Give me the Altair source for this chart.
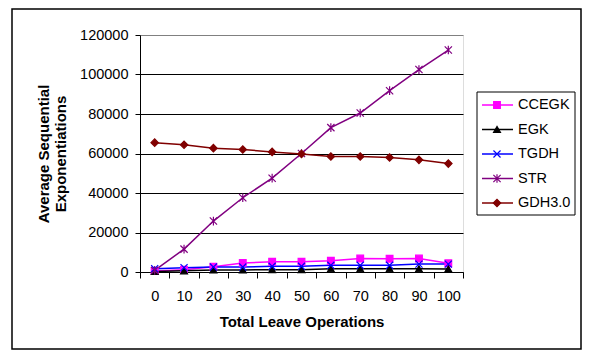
import altair as alt
import pandas as pd

ops = [0, 10, 20, 30, 40, 50, 60, 70, 80, 90, 100]
series_names = ["CCEGK", "EGK", "TGDH", "STR", "GDH3.0"]
ccegk = [500, 1200, 2700, 4600, 5200, 5200, 5700, 6800, 6700, 6800, 4400]
egk = [300, 600, 1000, 1000, 1200, 1200, 1600, 1600, 1600, 1600, 1500]
tgdh = [1700, 2200, 2500, 2500, 2900, 2900, 3400, 3400, 3400, 4000, 4000]
strv = [800, 11600, 25800, 37600, 47500, 60000, 73100, 80500, 91800, 102500, 112400]
gdh3 = [65500, 64400, 62700, 62000, 60800, 59800, 58500, 58500, 58000, 56800, 54900]
y_ticks = [0, 20000, 40000, 60000, 80000, 100000, 120000]

line_colors = ["#FF00FF", "#000000", "#0000FF", "#800080", "#800000"]
fill_colors = ["#FF00FF", "#000000", "transparent", "transparent", "#800000"]
shapes = ["square", "triangle-up", "M-1,-1L1,1M-1,1L1,-1",
          "M-1,-1L1,1M-1,1L1,-1M0,-1.2L0,1.2", "diamond"]
sizes = [45, 55, 36, 40, 60]

rows = []
for name, vals in zip(series_names, [ccegk, egk, tgdh, strv, gdh3]):
    for o, v in zip(ops, vals):
        rows.append({"ops": o, "value": v, "series": name})
df = pd.DataFrame(rows)
leg_df = pd.DataFrame({"series": series_names})
one = pd.DataFrame({"a": [0]})

FONT = "Liberation Sans"

stroke_enc = alt.Stroke("series:N", scale=alt.Scale(domain=series_names, range=line_colors), legend=None)
fill_enc = alt.Fill("series:N", scale=alt.Scale(domain=series_names, range=fill_colors), legend=None)
shape_enc = alt.Shape("series:N", scale=alt.Scale(domain=series_names, range=shapes), legend=None)
size_enc = alt.Size("series:N", scale=alt.Scale(domain=series_names, range=sizes), legend=None)

x_enc = alt.X(
    "ops:O",
    scale=alt.Scale(type="band", paddingInner=0, paddingOuter=0),
    bandPosition=0.5,
    axis=alt.Axis(
        title="Total Leave Operations",
        labelAngle=0, tickBand="extent", tickSize=6, tickColor="black",
        domainColor="black", labelFontSize=14.5, labelColor="black", labelPadding=11,
        titleFontSize=15, titleFontWeight="bold", titleColor="black", titlePadding=12,
        grid=False,
    ),
)
y_enc = alt.Y(
    "value:Q",
    scale=alt.Scale(domain=[0, 120000], nice=False),
    axis=alt.Axis(
        title=["Average Sequential", "Exponentiations"],
        values=y_ticks, format="d", tickSize=5, tickColor="black",
        domainColor="black", labelFontSize=14.5, labelColor="black", labelPadding=7,
        titleFontSize=15, titleFontWeight="bold", titleColor="black", titlePadding=11,
        titleLineHeight=17,
        grid=True,
        gridColor={"condition": {"test": "datum.value === 120000", "value": "#808080"}, "value": "black"},
        gridWidth=1,
    ),
)

lines = alt.Chart(df).mark_line(strokeWidth=1.5).encode(
    x=x_enc, y=y_enc, stroke=stroke_enc, detail="series:N"
)
points = alt.Chart(df).mark_point(filled=True, strokeWidth=1.2, opacity=1).encode(
    x=x_enc, y=y_enc, stroke=stroke_enc, fill=fill_enc, shape=shape_enc, size=size_enc
)
main = alt.layer(lines, points)

border = alt.Chart(one).mark_rect(fillOpacity=0, stroke="black", strokeWidth=1.5).encode(
    x=alt.value(-128), x2=alt.value(441), y=alt.value(-26), y2=alt.value(314)
)
leg_box = alt.Chart(one).mark_rect(fill="white", stroke="black", strokeWidth=1).encode(
    x=alt.value(337), x2=alt.value(435), y=alt.value(57), y2=alt.value(180)
)
leg_y = alt.Y("series:N", scale=alt.Scale(type="point", domain=series_names, range=[70, 168], padding=0), axis=None)
leg_rule = alt.Chart(leg_df).mark_rule(strokeWidth=1.5).encode(
    x=alt.value(342), x2=alt.value(373), y=leg_y, stroke=stroke_enc
)
leg_pts = alt.Chart(leg_df).mark_point(filled=True, strokeWidth=1.2, opacity=1).encode(
    x=alt.value(357), y=leg_y, stroke=stroke_enc, fill=fill_enc, shape=shape_enc, size=size_enc
)
leg_text = alt.Chart(leg_df).mark_text(align="left", baseline="middle", fontSize=14.5, font=FONT, color="black").encode(
    x=alt.value(378), y=leg_y, text="series:N"
)
legend = alt.layer(leg_rule, leg_pts, leg_text)

chart = alt.layer(border, main, leg_box, legend).resolve_scale(y="independent").properties(
    width=323, height=237,
    autosize=alt.AutoSizeParams(type="none"),
    padding={"left": 132, "top": 27, "right": 119, "bottom": 78},
).configure_view(
    fill="#C0C0C0", stroke="#808080", strokeWidth=1.5
).configure_axis(
    labelFont=FONT, titleFont=FONT
).configure(background="white")

chart.save("out.html", embed_options={"renderer": "svg", "actions": False})
